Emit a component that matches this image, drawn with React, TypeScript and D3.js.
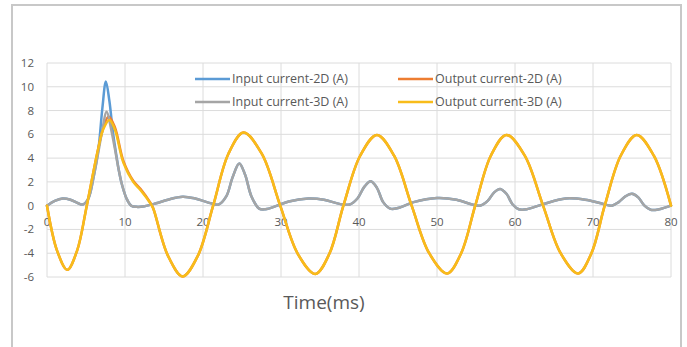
import React from "react";
import * as d3 from "d3";

const xTicks = [0, 10, 20, 30, 40, 50, 60, 70, 80];
const yTicks = [-6, -4, -2, 0, 2, 4, 6, 8, 10, 12];

// Input current-3D (A)
const inTime3D = [0,1,2,3,4,4.6,5.3,6.0,6.5,7.0,7.65,8.2,8.7,9.2,9.6,10.2,10.8,11.5,12.5,14,15.5,17.4,19,20.5,22,23,23.8,24.65,25.4,26.2,27.2,28,29.5,31,33.5,35.5,37.5,38.8,39.8,40.7,41.5,42.3,43.1,44,45,47,50,52.5,54.5,55.5,56.5,57.3,58.1,58.9,59.7,60.5,61.5,63.5,66.5,69,71,72.4,73.3,74.2,75,75.8,76.6,77.4,78.5,80];
const inVal3D = [0,0.4,0.6,0.5,0.2,0.1,0.6,2.5,4.2,6.0,7.9,6.5,4.8,3.0,1.8,0.6,0.0,-0.1,-0.05,0.2,0.5,0.75,0.6,0.3,0.1,0.8,2.4,3.55,2.6,0.8,-0.25,-0.3,0.0,0.35,0.6,0.5,0.15,0.1,0.6,1.6,2.05,1.5,0.3,-0.25,-0.2,0.3,0.65,0.5,0.1,0.0,0.4,1.1,1.4,1.0,0.1,-0.3,-0.3,0.1,0.6,0.5,0.2,0.0,0.3,0.8,1.0,0.7,0.0,-0.35,-0.3,0];

// Input current-2D (A)
const inTime2D = [0,1,2,3,4,4.6,5.3,6.0,6.6,7.1,7.55,8.0,8.45,8.9,9.2,9.6,10.2,10.8,11.5,12.5,14,15.5,17.4,19,20.5,22,23,23.8,24.65,25.4,26.2,27.2,28,29.5,31,33.5,35.5,37.5,38.8,39.8,40.7,41.5,42.3,43.1,44,45,47,50,52.5,54.5,55.5,56.5,57.3,58.1,58.9,59.7,60.5,61.5,63.5,66.5,69,71,72.4,73.3,74.2,75,75.8,76.6,77.4,78.5,80];
const inVal2D = [0,0.4,0.6,0.5,0.2,0.1,0.6,2.5,4.8,8.2,10.45,8.8,6.2,4.2,3.0,1.8,0.6,0.0,-0.1,-0.05,0.2,0.5,0.75,0.6,0.3,0.1,0.8,2.4,3.55,2.6,0.8,-0.25,-0.3,0.0,0.35,0.6,0.5,0.15,0.1,0.6,1.6,2.05,1.5,0.3,-0.25,-0.2,0.3,0.65,0.5,0.1,0.0,0.4,1.1,1.4,1.0,0.1,-0.3,-0.3,0.1,0.6,0.5,0.2,0.0,0.3,0.8,1.0,0.7,0.0,-0.35,-0.3,0];

// Output current-3D (A)
const outTime3D = [0,1.3,2.6,3.85,5.1,6.5,7.2,8.0,8.7,9.8,11.05,12.0,13.2,13.6,15.5,17.4,19.35,21.3,23.25,25.2,27.55,29.9,32.15,34.4,36.2,38.0,40.15,42.3,44.5,46.75,49.0,51.3,53.1,54.9,56.9,58.9,61.25,63.6,65.85,68.1,69.8,71.5,73.55,75.6,77.8,80];
const outVal3D = [0,-3.8,-5.4,-3.8,0,4.6,6.4,7.2,6.4,3.6,2.0,1.3,0.25,-0.2,-4.2,-5.95,-4.2,0,4.35,6.15,4.35,0,-4.05,-5.75,-4.05,0,4.2,5.95,4.2,0,-4.0,-5.7,-4.0,0,4.2,5.95,4.2,0,-4.0,-5.7,-4.0,0,4.2,5.95,4.2,0];

// Output current-2D (A)
const outTime2D = [0,1.3,2.6,3.85,5.1,6.5,7.2,7.9,8.7,9.8,11.05,12.0,13.2,13.6,15.5,17.4,19.35,21.3,23.25,25.2,27.55,29.9,32.15,34.4,36.2,38.0,40.15,42.3,44.5,46.75,49.0,51.3,53.1,54.9,56.9,58.9,61.25,63.6,65.85,68.1,69.8,71.5,73.55,75.6,77.8,80];
const outVal2D = [0,-3.8,-5.4,-3.8,0,4.6,6.5,7.5,6.6,3.75,2.1,1.4,0.3,-0.2,-4.2,-5.95,-4.2,0,4.35,6.15,4.35,0,-4.05,-5.75,-4.05,0,4.2,5.95,4.2,0,-4.0,-5.7,-4.0,0,4.2,5.95,4.2,0,-4.0,-5.7,-4.0,0,4.2,5.95,4.2,0];

const seriesNames = ["Input current-2D (A)", "Output current-2D (A)", "Input current-3D (A)", "Output current-3D (A)"];
const seriesColors = ["#5B9BD5", "#ED7D31", "#A5A5A5", "#F8BC1A"];

const W = 687;
const H = 347;
const FONT = "'Open Sans', 'Liberation Sans', sans-serif";

export default function App() {
  const x = d3.scaleLinear().domain([0, 80]).range([47, 671]);
  const y = d3.scaleLinear().domain([-6, 12]).range([277, 63]);

  const line = d3
    .line<[number, number]>()
    .x((d) => x(d[0]))
    .y((d) => y(d[1]))
    .curve(d3.curveCatmullRom.alpha(0.5));

  const zip = (t: number[], v: number[]) => t.map((tt, i) => [tt, v[i]] as [number, number]);
  const series = [
    zip(inTime2D, inVal2D),
    zip(outTime2D, outVal2D),
    zip(inTime3D, inVal3D),
    zip(outTime3D, outVal3D),
  ];

  const legendPos = [
    { lx: 195, ly: 79 },
    { lx: 398, ly: 79 },
    { lx: 195, ly: 102 },
    { lx: 398, ly: 102 },
  ];

  return (
    <svg width={W} height={H} style={{ position: "absolute", left: 0, top: 0, background: "#fff" }} fontFamily={FONT}>
      <rect x={0} y={0} width={W} height={H} fill="#fff" />
      <rect x={12} y={5} width={669} height={H + 10} fill="#fff" stroke="#c8c8c8" strokeWidth={2} />
      {/* gridlines */}
      {yTicks.map((t) => (
        <line key={"gy" + t} x1={x(0)} x2={x(80)} y1={y(t)} y2={y(t)} stroke="#dcdcdc" strokeWidth={1} />
      ))}
      {xTicks.map((t) => (
        <line key={"gx" + t} x1={x(t)} x2={x(t)} y1={y(12)} y2={y(-6)} stroke="#dcdcdc" strokeWidth={1} />
      ))}
      {/* y labels */}
      {yTicks.map((t) => (
        <text key={"yl" + t} x={34} y={y(t)} dy="0.35em" textAnchor="end" fontSize={11.5} fill="#595959">
          {t}
        </text>
      ))}
      {/* x labels */}
      {xTicks.map((t) => (
        <text key={"xl" + t} x={x(t)} y={y(0) + 16} dy="0.35em" textAnchor="middle" fontSize={11.5} fill="#595959">
          {t}
        </text>
      ))}
      {/* series */}
      {series.map((s, i) => (
        <path key={"s" + i} d={line(s) || ""} fill="none" stroke={seriesColors[i]} strokeWidth={2.5} strokeLinejoin="round" strokeLinecap="round" />
      ))}
      {/* legend */}
      {seriesNames.map((n, i) => (
        <g key={"lg" + i}>
          <line x1={legendPos[i].lx} x2={legendPos[i].lx + 35} y1={legendPos[i].ly} y2={legendPos[i].ly} stroke={seriesColors[i]} strokeWidth={2.5} />
          <text x={legendPos[i].lx + 37} y={legendPos[i].ly} dy="0.35em" fontSize={12.5} fill="#595959">
            {n}
          </text>
        </g>
      ))}
      {/* axis title */}
      <text x={324} y={302} dy="0.35em" textAnchor="middle" fontSize={19} fill="#595959">
        Time(ms)
      </text>
    </svg>
  );
}
